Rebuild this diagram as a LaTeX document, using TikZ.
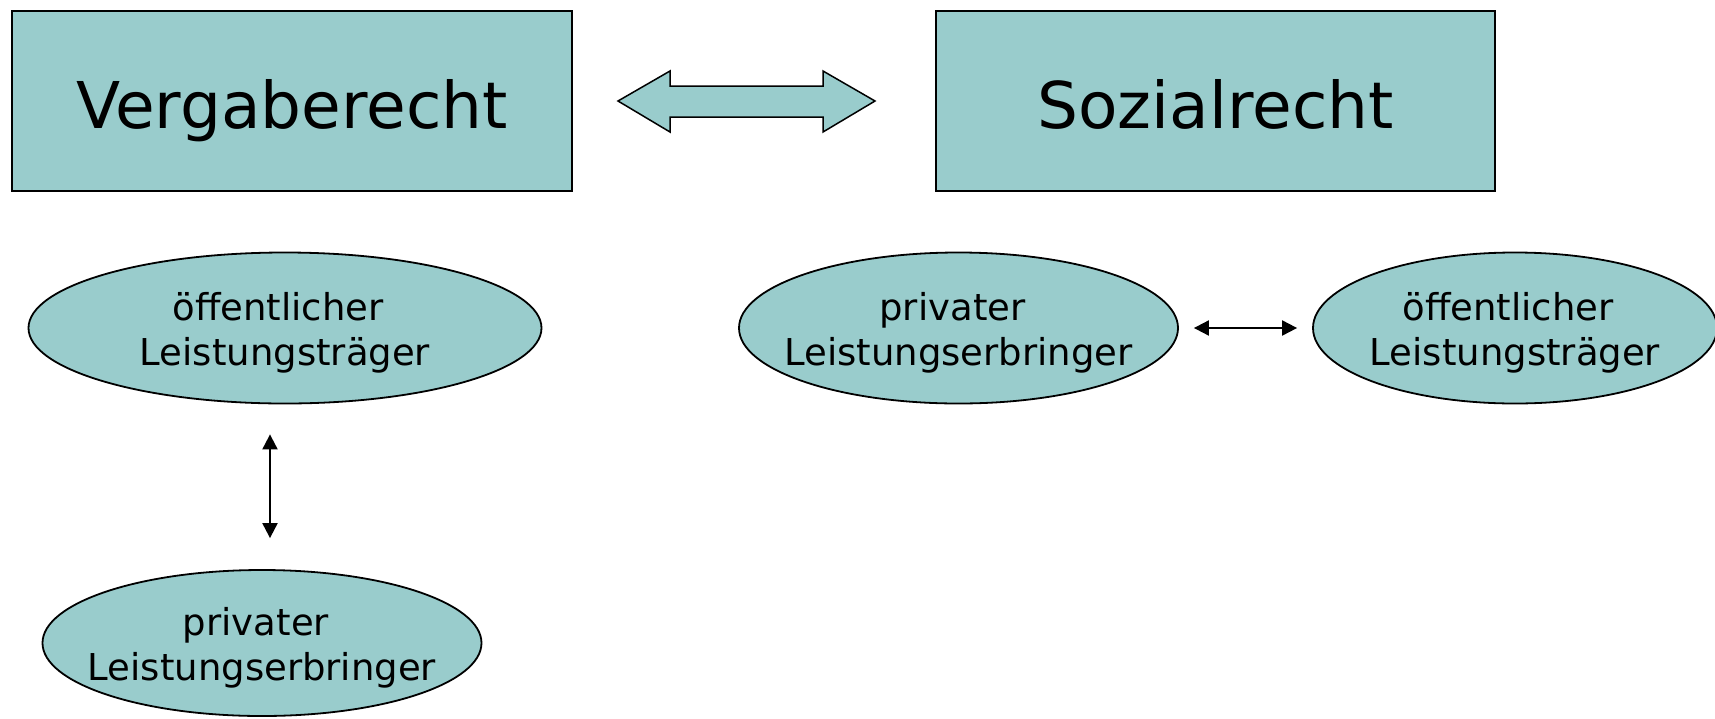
\documentclass[tikz,border=0pt]{standalone}
\usepackage{fontspec}
\setmainfont{DejaVu Sans}
\usetikzlibrary{arrows.meta,shapes.geometric}
\definecolor{teal1}{RGB}{153,204,204}
\tikzset{
  bigbox/.style={draw=black,line width=1.8pt,fill=teal1,inner sep=0pt,
    minimum width=#1,minimum height=180pt,text height=66pt,text depth=12pt,
    font=\fontsize{64.5}{76}\selectfont},
  ell/.style={draw=black,line width=1.8pt,fill=teal1,ellipse,inner ysep=0pt,inner xsep=-45pt,align=center,
    font=\fontsize{37}{45}\selectfont},
  sarrow/.style={line width=2pt,{Triangle[length=15pt,width=15pt]}-{Triangle[length=15pt,width=15pt]}},
  fatarrow/.style={draw=black,line width=1.5pt,fill=teal1,line join=miter}
}
\newcommand{\upstrut}{\rule{0pt}{37pt}}
\begin{document}
\begin{tikzpicture}[x=1pt,y=-1pt]
\useasboundingbox (0,0) rectangle (1715,718);
\node[bigbox=560pt] (verg) at (292,101) {Vergaberecht};
\node[bigbox=559pt] (sozi) at (1215.5,101) {Sozialrecht};
\draw[fatarrow] (618,101) -- (670,71) -- (670,86) -- (823,86) -- (823,71) -- (875,101)
  -- (823,132) -- (823,117) -- (670,117) -- (670,132) -- cycle;
\node[ell,minimum width=513pt,minimum height=151pt] (oe1) at (285,328)
  {\upstrut öffentlicher\kern14pt\\Leistungsträger};
\node[ell,minimum width=439pt,minimum height=146pt] (pe1) at (262,643)
  {\upstrut privater\kern12pt\\Leistungserbringer};
\node[ell,minimum width=439pt,minimum height=151pt] (pe2) at (958.5,328)
  {\upstrut privater\kern12pt\\Leistungserbringer};
\node[ell,minimum width=404pt,minimum height=151pt] (oe2) at (1515,328)
  {\upstrut öffentlicher\kern14pt\\Leistungsträger};
\draw[sarrow] ([xshift=-15pt,yshift=-30pt]oe1.south) -- ([xshift=8pt,yshift=31pt]pe1.north);
\draw[sarrow] ([xshift=15pt]pe2.east) -- ([xshift=-15pt]oe2.west);
\end{tikzpicture}
\end{document}
